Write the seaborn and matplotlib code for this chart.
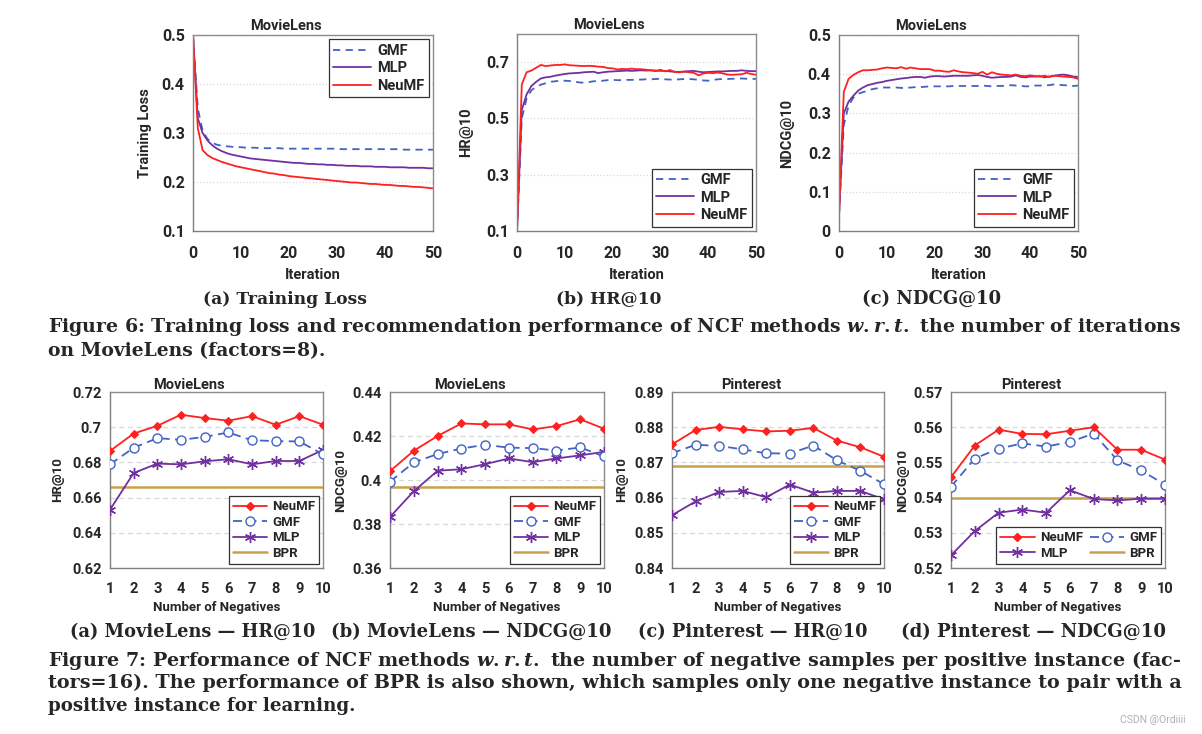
''' NCF figures 6 and 7: training curves and number-of-negatives sweep '''
import matplotlib
matplotlib.use("Agg")
import matplotlib.pyplot as plt
import matplotlib.ticker as mticker
from matplotlib.lines import Line2D
import seaborn as sb

# ---------------- data ----------------
iterations = list(range(51))

loss_gmf = [0.500, 0.350, 0.305, 0.288, 0.280, 0.276, 0.274, 0.273, 0.272, 0.271, 0.271,
            0.270, 0.270, 0.270, 0.269, 0.269, 0.269, 0.269, 0.269, 0.268, 0.268,
            0.268, 0.268, 0.268, 0.268, 0.268, 0.268, 0.268, 0.268, 0.268, 0.268,
            0.267, 0.267, 0.267, 0.267, 0.267, 0.267, 0.267, 0.267, 0.267, 0.267,
            0.267, 0.267, 0.267, 0.266, 0.266, 0.266, 0.266, 0.266, 0.266, 0.266]
loss_mlp = [0.500, 0.330, 0.300, 0.285, 0.275, 0.268, 0.263, 0.259, 0.256, 0.254, 0.252,
            0.250, 0.248, 0.247, 0.246, 0.245, 0.244, 0.243, 0.242, 0.241, 0.240,
            0.239, 0.239, 0.238, 0.237, 0.237, 0.236, 0.236, 0.235, 0.235, 0.234,
            0.234, 0.233, 0.233, 0.233, 0.232, 0.232, 0.232, 0.231, 0.231, 0.231,
            0.230, 0.230, 0.230, 0.230, 0.229, 0.229, 0.229, 0.229, 0.228, 0.228]
loss_neumf = [0.500, 0.310, 0.265, 0.255, 0.249, 0.245, 0.241, 0.238, 0.235, 0.232, 0.230,
              0.228, 0.226, 0.224, 0.222, 0.220, 0.218, 0.217, 0.215, 0.214, 0.212,
              0.211, 0.210, 0.209, 0.208, 0.207, 0.206, 0.205, 0.204, 0.203, 0.202,
              0.201, 0.200, 0.199, 0.199, 0.198, 0.197, 0.196, 0.196, 0.195, 0.194,
              0.194, 0.193, 0.192, 0.192, 0.191, 0.190, 0.190, 0.189, 0.188, 0.187]

hr_gmf = [0.100, 0.500, 0.570, 0.600, 0.612, 0.620, 0.625, 0.630, 0.632, 0.634, 0.634,
          0.633, 0.631, 0.628, 0.627, 0.629, 0.632, 0.633, 0.634, 0.636, 0.637,
          0.636, 0.636, 0.637, 0.637, 0.638, 0.638, 0.639, 0.639, 0.640, 0.641,
          0.639, 0.638, 0.638, 0.639, 0.640, 0.640, 0.639, 0.637, 0.635, 0.634,
          0.637, 0.639, 0.640, 0.640, 0.641, 0.641, 0.642, 0.641, 0.640, 0.641]
hr_mlp = [0.100, 0.530, 0.585, 0.615, 0.630, 0.642, 0.646, 0.648, 0.652, 0.655, 0.658,
          0.660, 0.661, 0.662, 0.664, 0.665, 0.666, 0.661, 0.664, 0.666, 0.667,
          0.668, 0.669, 0.670, 0.669, 0.670, 0.671, 0.670, 0.671, 0.670, 0.669,
          0.669, 0.667, 0.666, 0.665, 0.667, 0.668, 0.669, 0.666, 0.664, 0.665,
          0.666, 0.667, 0.667, 0.668, 0.669, 0.669, 0.671, 0.669, 0.668, 0.668]
hr_neumf = [0.100, 0.620, 0.664, 0.670, 0.680, 0.690, 0.686, 0.688, 0.690, 0.690, 0.692,
            0.689, 0.688, 0.687, 0.686, 0.687, 0.686, 0.684, 0.683, 0.679, 0.678,
            0.674, 0.676, 0.675, 0.677, 0.675, 0.675, 0.673, 0.671, 0.668, 0.673,
            0.667, 0.672, 0.665, 0.664, 0.666, 0.664, 0.662, 0.653, 0.660, 0.662,
            0.661, 0.663, 0.660, 0.656, 0.655, 0.656, 0.657, 0.662, 0.658, 0.655]

ndcg_gmf = [0.040, 0.270, 0.320, 0.340, 0.350, 0.354, 0.358, 0.362, 0.364, 0.366, 0.366,
            0.366, 0.366, 0.365, 0.365, 0.366, 0.367, 0.367, 0.368, 0.369, 0.369,
            0.369, 0.369, 0.369, 0.370, 0.370, 0.370, 0.370, 0.370, 0.370, 0.371,
            0.370, 0.369, 0.370, 0.370, 0.371, 0.372, 0.371, 0.370, 0.369, 0.369,
            0.371, 0.371, 0.372, 0.372, 0.374, 0.373, 0.372, 0.371, 0.370, 0.371]
ndcg_mlp = [0.040, 0.300, 0.330, 0.345, 0.358, 0.366, 0.372, 0.375, 0.378, 0.380, 0.383,
            0.385, 0.387, 0.389, 0.390, 0.392, 0.393, 0.393, 0.391, 0.394, 0.395,
            0.395, 0.394, 0.395, 0.396, 0.396, 0.396, 0.396, 0.397, 0.398, 0.396,
            0.393, 0.391, 0.392, 0.393, 0.393, 0.394, 0.397, 0.393, 0.392, 0.394,
            0.394, 0.395, 0.392, 0.394, 0.396, 0.398, 0.399, 0.397, 0.394, 0.393]
ndcg_neumf = [0.040, 0.355, 0.388, 0.398, 0.405, 0.410, 0.410, 0.411, 0.412, 0.415, 0.417,
              0.416, 0.415, 0.418, 0.414, 0.417, 0.415, 0.413, 0.413, 0.413, 0.409,
              0.409, 0.407, 0.406, 0.410, 0.407, 0.405, 0.404, 0.403, 0.401, 0.406,
              0.399, 0.405, 0.401, 0.399, 0.398, 0.397, 0.399, 0.396, 0.395, 0.397,
              0.395, 0.394, 0.396, 0.393, 0.396, 0.395, 0.394, 0.393, 0.392, 0.388]

negatives = [1, 2, 3, 4, 5, 6, 7, 8, 9, 10]

ml_hr_neumf = [0.6865, 0.6964, 0.7008, 0.7071, 0.7052, 0.7037, 0.7063, 0.7014, 0.7063, 0.7014]
ml_hr_gmf = [0.6789, 0.6883, 0.6938, 0.6928, 0.6945, 0.6970, 0.6926, 0.6921, 0.6919, 0.6846]
ml_hr_mlp = [0.6531, 0.6740, 0.6793, 0.6789, 0.6806, 0.6818, 0.6789, 0.6808, 0.6808, 0.6871]
ml_hr_bpr = 0.6658

ml_ndcg_neumf = [0.4040, 0.4133, 0.4200, 0.4257, 0.4253, 0.4253, 0.4230, 0.4245, 0.4276, 0.4233]
ml_ndcg_gmf = [0.3992, 0.4080, 0.4118, 0.4143, 0.4160, 0.4147, 0.4145, 0.4134, 0.4148, 0.4107]
ml_ndcg_mlp = [0.3832, 0.3949, 0.4042, 0.4049, 0.4072, 0.4098, 0.4081, 0.4098, 0.4112, 0.4128]
ml_ndcg_bpr = 0.3970

pin_hr_neumf = [0.8751, 0.8792, 0.8801, 0.8794, 0.8788, 0.8790, 0.8798, 0.8762, 0.8743, 0.8716]
pin_hr_gmf = [0.8726, 0.8750, 0.8747, 0.8737, 0.8726, 0.8725, 0.8748, 0.8706, 0.8676, 0.8638]
pin_hr_mlp = [0.8550, 0.8589, 0.8616, 0.8619, 0.8601, 0.8637, 0.8614, 0.8619, 0.8619, 0.8595]
pin_hr_bpr = 0.8689

pin_ndcg_neumf = [0.5458, 0.5548, 0.5593, 0.5581, 0.5580, 0.5590, 0.5600, 0.5536, 0.5536, 0.5508]
pin_ndcg_gmf = [0.5431, 0.5511, 0.5539, 0.5554, 0.5545, 0.5558, 0.5582, 0.5506, 0.5477, 0.5437]
pin_ndcg_mlp = [0.5236, 0.5305, 0.5357, 0.5366, 0.5357, 0.5421, 0.5396, 0.5392, 0.5397, 0.5397]
pin_ndcg_bpr = 0.5400

# ---------------- style ----------------
C_GMF = '#4063C4'
C_MLP = '#7030A0'
C_NEU = '#FF2020'
C_BPR = '#C9A14A'
FONT = ['Roboto', 'DejaVu Sans']
SERIF = ['DejaVu Serif']

sb.set_theme(style='white')
plt.rcParams['font.family'] = FONT
plt.rcParams['font.weight'] = 'bold'
plt.rcParams['mathtext.fontset'] = 'dejavuserif'

W, H = 1202, 734
fig = plt.figure(figsize=(W / 100, H / 100), dpi=100)


def make_axes(x0, y0, x1, y1):
    ''' axes from pixel box '''
    return fig.add_axes([x0 / W, 1 - y1 / H, (x1 - x0) / W, (y1 - y0) / H])


def style_axes(ax, box, ylim, yticks, ylabel, xlabel, title, tick_fs, lab_fs,
               ylab_x, xlab_y, grid_ls, xpad, title_dy):
    ''' common Excel-ish look '''
    x0, y0, x1, y1 = box
    ax.set_ylim(*ylim)
    ax.set_yticks(yticks)
    ax.yaxis.set_major_formatter(mticker.FuncFormatter(lambda v, p: f'{round(v, 4):g}'))
    ax.grid(axis='y', color='#d9d9d9', linestyle=grid_ls, linewidth=0.9)
    ax.grid(axis='x', visible=False)
    for s in ['top', 'right']:
        ax.spines[s].set_color('#8c8c8c')
    for s in ['left', 'bottom']:
        ax.spines[s].set_color('#7f7f7f')
    for s in ax.spines.values():
        s.set_linewidth(1.0)
    ax.tick_params(length=0, labelsize=tick_fs)
    ax.tick_params(axis='x', pad=xpad)
    ax.tick_params(axis='y', pad=6)
    for lab in ax.get_xticklabels() + ax.get_yticklabels():
        lab.set_fontweight('bold')
    ax.set_ylabel(ylabel, fontsize=lab_fs, fontweight='bold', va='center')
    ax.set_xlabel(xlabel, fontsize=lab_fs, fontweight='bold', va='center')
    ax.yaxis.set_label_coords((ylab_x - x0) / (x1 - x0), 0.5)
    ax.xaxis.set_label_coords(0.5, -(xlab_y - y1) / (y1 - y0))
    ax.text(0.5 - 27 / (x1 - x0), 1 + title_dy / (y1 - y0), title, transform=ax.transAxes,
            ha='center', va='center', fontsize=10.5, fontweight='bold')


# ---------------- figure 6 ----------------
top_boxes = [(193, 35, 433, 231), (517, 34, 756, 231), (839, 35, 1078, 231)]
top_series = [(loss_gmf, loss_mlp, loss_neumf), (hr_gmf, hr_mlp, hr_neumf),
              (ndcg_gmf, ndcg_mlp, ndcg_neumf)]
top_ylims = [(0.1, 0.5), (0.1, 0.8), (0.0, 0.5)]
top_yticks = [[0.1, 0.2, 0.3, 0.4, 0.5], [0.1, 0.3, 0.5, 0.7], [0, 0.1, 0.2, 0.3, 0.4, 0.5]]
top_ylabels = ['Training Loss', 'HR@10', 'NDCG@10']
top_ylab_x = [145, 466, 787]
top_legend = ['upper right', 'lower right', 'lower right']

for box, (g, m, n), yl, yt, lab, lx, loc in zip(top_boxes, top_series, top_ylims,
                                                top_yticks, top_ylabels, top_ylab_x, top_legend):
    ax = make_axes(*box)
    sb.lineplot(x=iterations, y=g, ax=ax, color=C_GMF, linestyle=(0, (4, 3)), linewidth=1.3)
    sb.lineplot(x=iterations, y=m, ax=ax, color=C_MLP, linewidth=1.3)
    sb.lineplot(x=iterations, y=n, ax=ax, color=C_NEU, linewidth=1.3)
    ax.set_xlim(0, 50)
    ax.set_xticks([0, 10, 20, 30, 40, 50])
    style_axes(ax, box, yl, yt, lab, 'Iteration', 'MovieLens', 11.5, 10.5, lx, 275, ':', 11, 9)
    handles = [Line2D([], [], color=C_GMF, linestyle=(0, (4, 3)), lw=1.3),
               Line2D([], [], color=C_MLP, lw=1.3),
               Line2D([], [], color=C_NEU, lw=1.3)]
    leg = ax.legend(handles, ['GMF', 'MLP', 'NeuMF'], loc=loc, fancybox=False,
                    edgecolor='#333333', framealpha=1, borderaxespad=0.3,
                    prop={'family': FONT, 'weight': 'bold', 'size': 10.5},
                    handlelength=2.6, labelspacing=0.25, borderpad=0.3, handletextpad=0.4)
    leg.get_frame().set_linewidth(0.9)

# ---------------- figure 7 ----------------
bot_boxes = [(110, 392, 323, 568), (390, 392, 604, 568), (672, 392, 884, 568), (951, 392, 1165, 568)]
bot_series = [(ml_hr_neumf, ml_hr_gmf, ml_hr_mlp, ml_hr_bpr),
              (ml_ndcg_neumf, ml_ndcg_gmf, ml_ndcg_mlp, ml_ndcg_bpr),
              (pin_hr_neumf, pin_hr_gmf, pin_hr_mlp, pin_hr_bpr),
              (pin_ndcg_neumf, pin_ndcg_gmf, pin_ndcg_mlp, pin_ndcg_bpr)]
bot_ylims = [(0.62, 0.72), (0.36, 0.44), (0.84, 0.89), (0.52, 0.57)]
bot_yticks = [[0.62, 0.64, 0.66, 0.68, 0.70, 0.72], [0.36, 0.38, 0.40, 0.42, 0.44],
              [0.84, 0.85, 0.86, 0.87, 0.88, 0.89], [0.52, 0.53, 0.54, 0.55, 0.56, 0.57]]
bot_ylabels = ['HR@10', 'NDCG@10', 'HR@10', 'NDCG@10']
bot_titles = ['MovieLens', 'MovieLens', 'Pinterest', 'Pinterest']
bot_ylab_x = [58, 341, 622, 903]
STAR = (6, 2, 0)

for i, (box, (n, g, m, b), yl, yt, lab, tt, lx) in enumerate(zip(
        bot_boxes, bot_series, bot_ylims, bot_yticks, bot_ylabels, bot_titles, bot_ylab_x)):
    ax = make_axes(*box)
    ax.axhline(b, color=C_BPR, linewidth=1.8, zorder=2)
    sb.lineplot(x=negatives, y=m, ax=ax, color=C_MLP, linewidth=1.3, marker=STAR,
                markersize=8, markeredgecolor=C_MLP, markeredgewidth=1.0, zorder=3)
    sb.lineplot(x=negatives, y=g, ax=ax, color=C_GMF, linewidth=1.3, linestyle=(0, (5, 3)),
                marker='o', markersize=6.5, markerfacecolor='white', markeredgecolor=C_GMF,
                markeredgewidth=1.0, zorder=4)
    sb.lineplot(x=negatives, y=n, ax=ax, color=C_NEU, linewidth=1.3, marker='D',
                markersize=4.5, markeredgecolor=C_NEU, zorder=5)
    ax.set_xlim(1, 10)
    ax.set_xticks(negatives)
    style_axes(ax, box, yl, yt, lab, 'Number of Negatives', tt, 10.5, 9.5, lx, 608,
               (0, (4, 3)), 10, 7)
    h_neu = Line2D([], [], color=C_NEU, lw=1.3, marker='D', markersize=4.5)
    h_gmf = Line2D([], [], color=C_GMF, lw=1.3, linestyle=(0, (5, 3)), marker='o',
                   markersize=6.5, markerfacecolor='white')
    h_mlp = Line2D([], [], color=C_MLP, lw=1.3, marker=STAR, markersize=8)
    h_bpr = Line2D([], [], color=C_BPR, lw=1.8)
    if i == 3:
        handles, labels, ncol = [h_neu, h_mlp, h_gmf, h_bpr], ['NeuMF', 'MLP', 'GMF', 'BPR'], 2
    else:
        handles, labels, ncol = [h_neu, h_gmf, h_mlp, h_bpr], ['NeuMF', 'GMF', 'MLP', 'BPR'], 1
    leg = ax.legend(handles, labels, loc='lower right', ncol=ncol, fancybox=False,
                    edgecolor='#333333', framealpha=1, borderaxespad=0.3,
                    prop={'family': FONT, 'weight': 'bold', 'size': 9.5},
                    handlelength=2.6, labelspacing=0.2, borderpad=0.3, handletextpad=0.4,
                    columnspacing=0.5)
    leg.get_frame().set_linewidth(0.9)

# ---------------- captions ----------------
renderer = fig.canvas.get_renderer()


def fit_text(x0, x1, y, s, size=13):
    ''' caption text scaled so it spans x0..x1 pixels '''
    t = fig.text(x0 / W, 1 - y / H, s, ha='left', va='center', family=SERIF,
                 fontweight='bold', fontsize=size)
    w = t.get_window_extent(renderer).width
    t.set_fontsize(size * (x1 - x0) / w)


fit_text(48, 1177, 327, 'Figure 6: Training loss and recommendation performance of NCF methods '
         r'$\mathit{w.r.t.}$ the number of iterations')
fit_text(48, 326, 351, 'on MovieLens (factors=8).')
fit_text(203, 366, 299, '(a) Training Loss')
fit_text(556, 661, 299, '(b) HR@10')
fit_text(862, 1001, 299, '(c) NDCG@10')

fit_text(48, 1177, 660, 'Figure 7: Performance of NCF methods $\\mathit{w.r.t.}$ the number of '
         'negative samples per positive instance (fac-')
fit_text(48, 1177, 683, 'tors=16). The performance of BPR is also shown, which samples only one '
         'negative instance to pair with a')
fit_text(48, 355, 706, 'positive instance for learning.')
fit_text(70, 315, 632, '(a) MovieLens — HR@10')
fit_text(331, 613, 632, '(b) MovieLens — NDCG@10')
fit_text(638, 867, 632, '(c) Pinterest — HR@10')
fit_text(901, 1166, 632, '(d) Pinterest — NDCG@10')

fig.text(1186 / W, 1 - 720 / H, 'CSDN @Ordiiii', ha='right', va='center',
         fontsize=7.5, color='#b0b0b0', fontweight='normal')

fig.savefig('out.png', dpi=100, facecolor='white')
